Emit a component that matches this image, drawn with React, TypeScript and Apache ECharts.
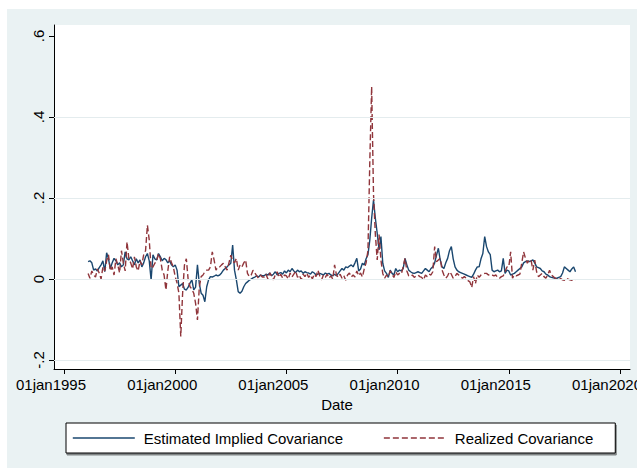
import React, { useEffect, useRef } from "react";
import * as echarts from "echarts";

// Monthly observations, first one = February 1996
const START_YEAR = 1996;
const START_MONTH = 2;

const seriesNames = ["Estimated Implied Covariance", "Realized Covariance"];

const impliedCov = [
  // 1996 (Feb-Dec)
  0.043, 0.045, 0.040, 0.022, 0.025, 0.020, 0.028, 0.035, 0.045, 0.018, 0.065,
  // 1997
  0.050, 0.026, 0.040, 0.051, 0.045, 0.035, 0.040, 0.030, 0.035, 0.067, 0.050, 0.047,
  // 1998
  0.055, 0.045, 0.035, 0.050, 0.040, 0.047, 0.030, 0.040, 0.055, 0.063, 0.045, -0.002,
  // 1999
  0.060, 0.050, 0.047, 0.063, 0.055, 0.045, 0.051, 0.048, 0.040, 0.045, 0.035, 0.030,
  // 2000
  0.035, 0.022, -0.019, -0.015, -0.011, -0.025, -0.027, -0.020, -0.010, -0.002, -0.027, -0.020,
  // 2001
  0.035, -0.011, -0.035, -0.040, -0.056, -0.019, -0.002, 0.006, 0.005, 0.007, 0.010, 0.008,
  // 2002
  0.010, 0.015, 0.022, 0.026, 0.030, 0.035, 0.039, 0.084, 0.022, -0.002, -0.031, -0.035,
  // 2003
  -0.030, -0.019, -0.011, -0.007, -0.003, 0.000, 0.003, 0.005, 0.008, 0.005, 0.010, 0.008,
  // 2004
  0.008, 0.012, 0.010, 0.015, 0.008, 0.012, 0.018, 0.010, 0.014, 0.016, 0.012, 0.020,
  // 2005
  0.015, 0.022, 0.018, 0.026, 0.020, 0.016, 0.022, 0.018, 0.020, 0.014, 0.018, 0.016,
  // 2006
  0.015, 0.012, 0.018, 0.015, 0.010, 0.012, 0.014, 0.012, 0.010, 0.015, 0.012, 0.014,
  // 2007
  0.010, 0.008, 0.012, 0.008, 0.014, 0.020, 0.026, 0.022, 0.030, 0.028, 0.032, 0.035,
  // 2008
  0.030, 0.040, 0.051, 0.020, 0.025, 0.039, 0.035, 0.050, 0.060, 0.096, 0.150, 0.195,
  // 2009
  0.150, 0.113, 0.072, 0.105, 0.039, 0.020, 0.014, 0.004, 0.022, 0.014, 0.010, 0.026,
  // 2010
  0.018, 0.022, 0.020, 0.026, 0.051, 0.035, 0.022, 0.018, 0.015, 0.014, 0.016, 0.018,
  // 2011
  0.016, 0.014, 0.020, 0.026, 0.022, 0.018, 0.026, 0.030, 0.040, 0.059, 0.076, 0.047,
  // 2012
  0.030, 0.026, 0.040, 0.051, 0.070, 0.080, 0.050, 0.030, 0.022, 0.018, 0.016, 0.014,
  // 2013
  0.012, 0.010, 0.008, 0.006, 0.004, 0.012, 0.022, 0.030, 0.030, 0.050, 0.063, 0.105,
  // 2014
  0.080, 0.067, 0.060, 0.022, 0.018, 0.020, 0.022, 0.018, 0.020, 0.051, 0.014, 0.022,
  // 2015
  0.020, 0.010, 0.012, 0.014, 0.018, 0.022, 0.026, 0.030, 0.040, 0.043, 0.045, 0.043,
  // 2016
  0.045, 0.047, 0.040, 0.030, 0.028, 0.026, 0.020, 0.018, 0.012, 0.010, 0.006, 0.004,
  // 2017
  0.003, 0.002, 0.002, 0.004, 0.006, 0.015, 0.030, 0.026, 0.022, 0.018, 0.025, 0.030,
  // 2018 (Jan)
  0.018,
];

const realizedCov = [
  // 1996 (Feb-Dec)
  0.014, 0.002, 0.020, 0.010, 0.005, 0.025, 0.015, 0.000, 0.030, 0.020, 0.045,
  // 1997
  0.060, 0.020, 0.030, 0.010, 0.050, 0.035, 0.015, 0.070, 0.040, 0.020, 0.092, 0.050,
  // 1998
  0.040, 0.025, 0.055, 0.030, 0.020, 0.045, 0.035, 0.060, 0.070, 0.133, 0.096, 0.026,
  // 1999
  0.030, 0.039, 0.045, 0.063, 0.050, 0.022, 0.010, -0.027, 0.020, 0.055, 0.040, 0.030,
  // 2000
  0.006, -0.010, -0.035, -0.142, -0.035, 0.035, 0.050, -0.002, -0.019, -0.025, -0.035, -0.060,
  // 2001
  -0.101, -0.020, 0.006, 0.010, 0.018, 0.022, 0.022, 0.030, 0.067, 0.047, 0.022, 0.030,
  // 2002
  0.030, 0.035, 0.039, 0.030, 0.022, 0.040, 0.059, 0.045, 0.040, 0.051, 0.022, 0.035,
  // 2003
  0.030, 0.040, 0.047, 0.014, 0.006, 0.010, 0.022, 0.015, 0.008, 0.002, 0.010, 0.005,
  // 2004
  0.005, 0.012, 0.000, 0.015, 0.008, -0.002, 0.010, 0.018, 0.004, 0.012, 0.002, 0.010,
  // 2005
  0.008, 0.000, 0.015, 0.005, 0.012, 0.020, 0.004, 0.010, -0.002, 0.012, 0.006, 0.015,
  // 2006
  0.004, 0.010, 0.000, 0.012, 0.006, 0.022, 0.008, -0.002, 0.010, 0.004, 0.012, 0.002,
  // 2007
  0.008, 0.000, 0.035, 0.010, 0.004, 0.012, 0.002, 0.008, -0.003, 0.010, 0.015, 0.005,
  // 2008
  0.010, 0.005, 0.020, 0.008, 0.015, 0.005, 0.025, 0.040, 0.070, 0.290, 0.475, 0.210,
  // 2009
  0.110, 0.047, 0.110, 0.047, 0.014, 0.002, 0.010, 0.005, 0.020, 0.012, 0.004, 0.018,
  // 2010
  0.010, 0.014, 0.012, 0.030, 0.051, 0.020, 0.008, 0.006, 0.010, 0.004, 0.008, 0.010,
  // 2011
  0.006, 0.004, -0.002, 0.010, 0.006, 0.012, 0.010, 0.018, 0.080, 0.043, 0.047, 0.051,
  // 2012
  0.022, 0.010, 0.002, 0.008, 0.018, 0.012, 0.002, 0.006, 0.014, 0.010, 0.006, 0.002,
  // 2013
  0.006, 0.002, -0.004, -0.007, -0.021, 0.006, -0.011, 0.010, 0.004, 0.010, 0.012, 0.014,
  // 2014
  0.014, 0.010, 0.012, 0.010, 0.008, 0.010, 0.004, 0.002, 0.006, 0.008, 0.018, 0.030,
  // 2015
  0.030, 0.067, 0.002, 0.010, 0.008, 0.010, 0.012, 0.040, 0.067, 0.051, 0.039, 0.047,
  // 2016
  0.047, 0.022, 0.047, 0.018, 0.006, 0.010, 0.014, 0.006, 0.002, 0.010, 0.022, 0.010,
  // 2017
  0.006, 0.002, 0.000, -0.001, 0.001, -0.002, -0.003, 0.002, 0.000, -0.002, -0.003, -0.004,
  // 2018 (Jan)
  -0.002,
];

const xTickYears = [1995, 2000, 2005, 2010, 2015, 2020];
const yTickValues = [-0.2, 0, 0.2, 0.4, 0.6];
const yGridValues = [-0.2, 0, 0.2, 0.4];

const FONT = "'Liberation Sans', Arial, Helvetica, sans-serif";
const NAVY = "#1A476F";
const MAROON = "#90353B";
const BG = "#EAF2F3";

function toPoints(vals: number[]): [number, number][] {
  return vals.map((v, i) => [START_YEAR + (START_MONTH - 1 + i) / 12, v]);
}

function fmtY(v: number): string {
  const r = Math.round(v * 10) / 10;
  if (r === 0) return "0";
  return String(r).replace("0.", ".");
}

export default function App() {
  const ref = useRef<HTMLDivElement>(null);
  useEffect(() => {
    if (!ref.current) return;
    const chart = echarts.init(ref.current, undefined, { renderer: "svg" });
    const option: any = {
      animation: false,
      backgroundColor: BG,
      textStyle: { fontFamily: FONT },
      grid: [
        {
          left: 47, right: 7, top: 16, bottom: 99,
          show: true, backgroundColor: "#ffffff", borderWidth: 0,
          containLabel: false, outerBoundsMode: "none",
        },
        {
          left: 57, right: 17, top: 27, bottom: 108,
          show: false, containLabel: false, outerBoundsMode: "none",
        },
      ],
      xAxis: [
        {
          type: "value",
          gridIndex: 0,
          min: 1994.55,
          max: 2020.45,
          axisLine: { show: true, onZero: false, lineStyle: { color: "#000", width: 1 } },
          axisTick: { show: false },
          axisLabel: { show: false },
          splitLine: { show: false },
        },
        {
          type: "value",
          gridIndex: 1,
          min: xTickYears[0],
          max: xTickYears[xTickYears.length - 1],
          interval: 5,
          position: "bottom",
          offset: 9,
          axisLine: { show: false, onZero: false },
          axisTick: { show: true, length: 5, lineStyle: { color: "#000", width: 1 } },
          axisLabel: {
            show: true,
            fontSize: 15,
            color: "#000",
            fontFamily: FONT,
            margin: 8,
            padding: [0, 26, 0, 0],
            hideOverlap: false,
            formatter: (v: number) => "01jan" + Math.round(v),
          },
          splitLine: { show: false },
          name: "Date",
          nameLocation: "middle",
          nameGap: 25,
          nameTextStyle: { fontSize: 15, color: "#000", fontFamily: FONT, padding: [0, 10, 0, 0] },
        },
      ],
      yAxis: [
        {
          type: "value",
          gridIndex: 0,
          min: -0.222,
          max: 0.627,
          axisLine: { show: true, onZero: false, lineStyle: { color: "#000", width: 1 } },
          axisTick: { show: false },
          axisLabel: { show: false },
          splitLine: { show: false },
        },
        {
          type: "value",
          gridIndex: 1,
          min: yTickValues[0],
          max: yTickValues[yTickValues.length - 1],
          interval: 0.2,
          position: "left",
          offset: 10,
          axisLine: { show: false, onZero: false },
          axisTick: { show: true, length: 5, lineStyle: { color: "#000", width: 1 } },
          axisLabel: {
            show: true,
            rotate: 90,
            fontSize: 15,
            color: "#000",
            fontFamily: FONT,
            margin: 8,
            formatter: (v: number) => fmtY(v),
          },
          splitLine: { show: false },
        },
      ],
      legend: {
        data: seriesNames,
        left: 59,
        top: 414,
        orient: "horizontal",
        itemWidth: 62,
        itemHeight: 14,
        itemGap: 40,
        padding: [7, 22, 7, 6],
        backgroundColor: "#ffffff",
        borderColor: "#000000",
        borderWidth: 1,
        borderRadius: 0,
        shadowColor: "rgba(0,0,0,0.45)",
        shadowOffsetX: 1,
        shadowOffsetY: 2,
        shadowBlur: 0,
        itemStyle: { opacity: 0 },
        lineStyle: { width: 1.6 },
        textStyle: {
          fontSize: 15, color: "#000", fontFamily: FONT, lineHeight: 16,
          padding: [0, 0, 0, 4],
        },
        selectedMode: false,
      },
      series: [
        {
          type: "line",
          xAxisIndex: 0,
          yAxisIndex: 0,
          data: [[1995, 0]],
          symbol: "none",
          lineStyle: { opacity: 0 },
          silent: true,
          z: 1,
          markLine: {
            silent: true,
            symbol: ["none", "none"],
            label: { show: false },
            lineStyle: { color: "#E4ECEE", width: 1, type: "solid" },
            data: yGridValues.map((v) => ({ yAxis: v })),
          },
        },
        {
          name: seriesNames[0],
          type: "line",
          xAxisIndex: 0,
          yAxisIndex: 0,
          data: toPoints(impliedCov),
          symbol: "none",
          lineStyle: { color: NAVY, width: 1.4 },
          itemStyle: { color: NAVY },
          z: 2,
        },
        {
          name: seriesNames[1],
          type: "line",
          xAxisIndex: 0,
          yAxisIndex: 0,
          data: toPoints(realizedCov),
          symbol: "none",
          lineStyle: { color: MAROON, width: 1.4, type: [6, 3] },
          itemStyle: { color: MAROON },
          z: 3,
        },
      ],
    };
    chart.setOption(option);
    return () => chart.dispose();
  }, []);
  return (
    <div
      ref={ref}
      style={{ position: "absolute", left: 7, top: 9, width: 630, height: 459 }}
    />
  );
}
